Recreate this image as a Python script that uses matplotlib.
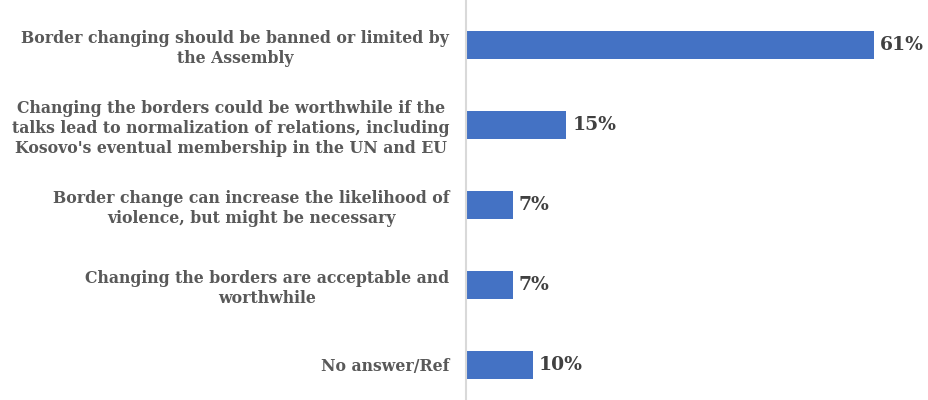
import matplotlib.pyplot as plt

categories = [
    "Border changing should be banned or limited by\nthe Assembly",
    "Changing the borders could be worthwhile if the\ntalks lead to normalization of relations, including\nKosovo's eventual membership in the UN and EU",
    "Border change can increase the likelihood of\nviolence, but might be necessary",
    "Changing the borders are acceptable and\nworthwhile",
    "No answer/Ref",
]
values = [61, 15, 7, 7, 10]

BAR_COLOR = "#4472C4"
TEXT_COLOR = "#595959"
FONT = "DejaVu Serif"

fig = plt.figure(figsize=(9.29, 4.0), dpi=100)
ax = fig.add_axes([466 / 929, 0.0, 435 / 929, 1.0])

ypos = list(range(len(categories)))
ax.barh(ypos, values, height=0.35, color=BAR_COLOR)

for y, v in zip(ypos, values):
    ax.text(v + 0.9, y, f"{v}%", va="center", ha="left", fontsize=13.5,
            fontweight="bold", color="#404040", family=FONT)

ax.set_xlim(0, 65)
ax.set_ylim(4.44, -0.56)
ax.set_yticks(ypos)
ax.set_yticklabels(categories, fontsize=11.3, fontweight="bold", color=TEXT_COLOR,
                   family=FONT, linespacing=1.25)
for lbl in ax.get_yticklabels():
    lbl.set_multialignment("center")
ax.tick_params(axis="y", length=0, pad=12)
ax.set_xticks([])

for side in ["top", "right", "bottom"]:
    ax.spines[side].set_visible(False)
ax.spines["left"].set_color("#d9d9d9")
ax.spines["left"].set_linewidth(1.5)

fig.savefig("out.png", dpi=100)
